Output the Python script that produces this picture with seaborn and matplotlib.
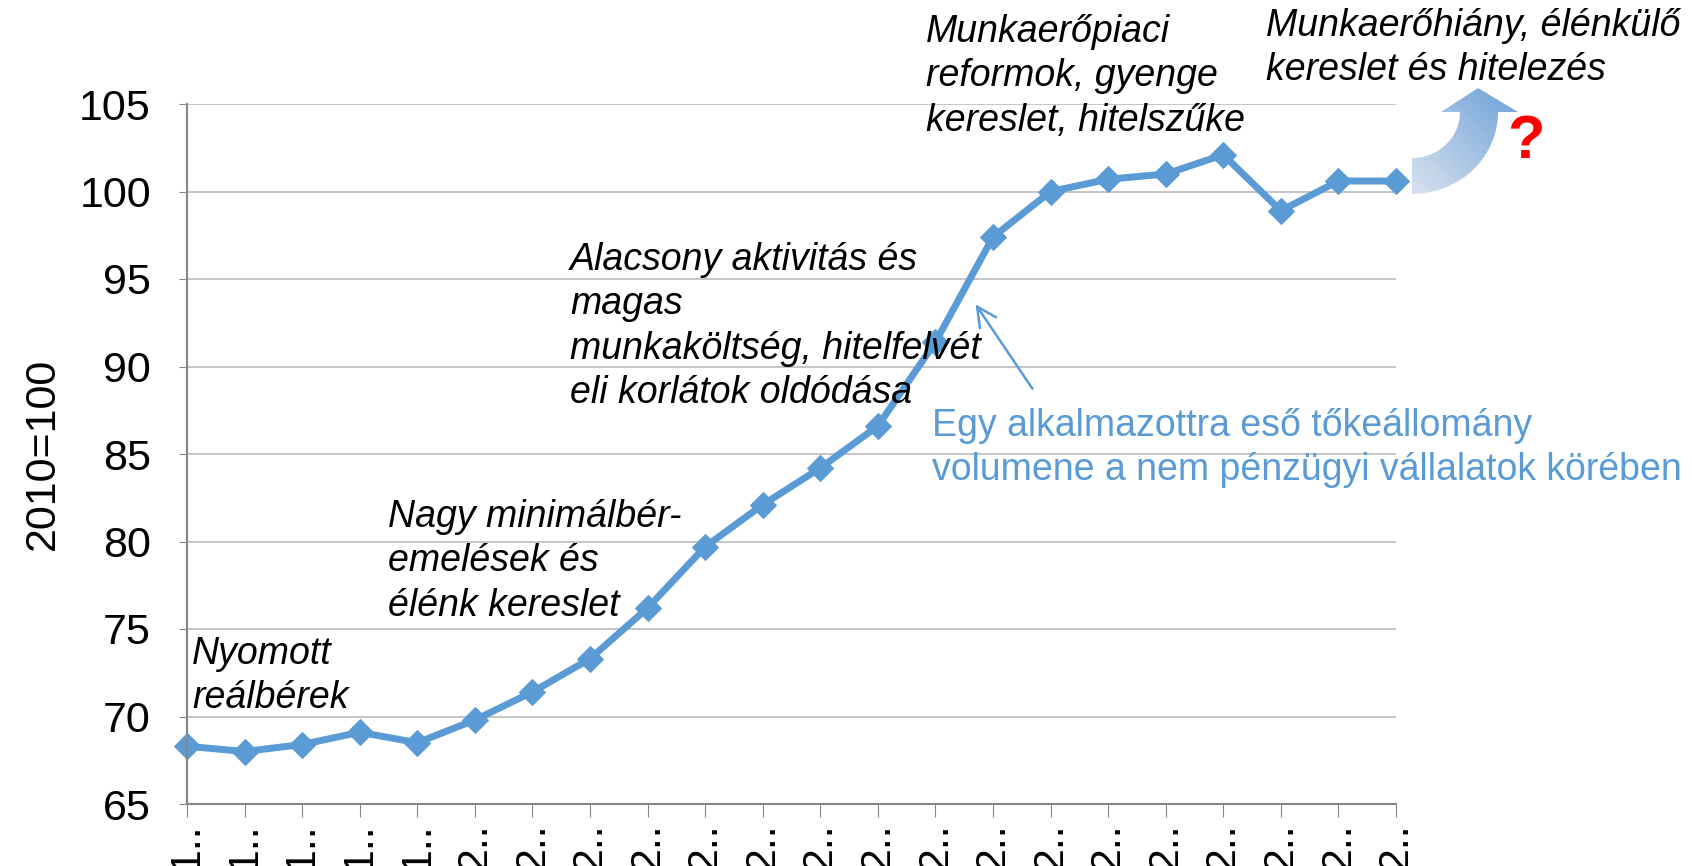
import numpy as np
import pandas as pd
import seaborn as sns
import matplotlib.pyplot as plt
from matplotlib.path import Path
from matplotlib.patches import PathPatch

sns.set_style('white')
plt.rcParams['font.family'] = ['Liberation Sans', 'DejaVu Sans']
plt.rcParams['text.color'] = 'black'
plt.rcParams['xtick.color'] = 'black'
plt.rcParams['ytick.color'] = 'black'
plt.rcParams['axes.labelcolor'] = 'black'

# data (index 2010=100)
tick_labels = ['1..'] * 5 + ['2..'] * 17
values = [68.3, 68.0, 68.4, 69.1, 68.5, 69.8, 71.4, 73.3, 76.2, 79.7, 82.1,
          84.2, 86.6, 91.4, 97.4, 100.0, 100.7, 101.0, 102.1, 98.9, 100.6, 100.6]
y_ticks = [65, 70, 75, 80, 85, 90, 95, 100, 105]

blue = '#5B9BD5'
W, H = 1692, 866

df = pd.DataFrame({'pos': range(len(values)), 'value': values})

fig = plt.figure(figsize=(W / 100, H / 100), dpi=100)
ax = fig.add_axes([187 / W, 1 - 804 / H, (1396 - 187) / W, (804 - 104) / H])

sns.lineplot(data=df, x='pos', y='value', color=blue, linewidth=5,
             marker='D', markersize=13, markeredgecolor=blue, ax=ax, clip_on=False)

ax.set_xlim(0, len(values) - 1)
ax.set_ylim(65, 105)
ax.set_yticks(y_ticks)
ax.set_xticks(range(len(values)))
ax.set_xticklabels(tick_labels, rotation=90, fontsize=31, va='top')
ax.tick_params(axis='y', labelsize=31, length=6, color='#868686', direction='out', left=True, pad=20)
ax.tick_params(axis='x', length=9, color='#868686', direction='out', bottom=True, pad=4)
ax.yaxis.grid(True, color='#C0C0C0', linewidth=1.3)
ax.set_axisbelow(True)
for s in ['top', 'right']:
    ax.spines[s].set_visible(False)
for s in ['left', 'bottom']:
    ax.spines[s].set_color('#868686')
    ax.spines[s].set_linewidth(1.5)
ax.set_xlabel('')
ax.set_ylabel('2010=100', fontsize=31, labelpad=12)


def fx(x):
    return x / W


def fy(y):
    return 1 - y / H


notes = [
    (192, 636, 'Nyomott\nreálbérek'),
    (388, 499, 'Nagy minimálbér-\nemelések és\nélénk kereslet'),
    (570, 242, 'Alacsony aktivitás és\nmagas\nmunkaköltség, hitelfelvét\neli korlátok oldódása'),
    (926, 14, 'Munkaerőpiaci\nreformok, gyenge\nkereslet, hitelszűke'),
    (1266, 8, 'Munkaerőhiány, élénkülő\nkereslet és hitelezés'),
]
for x, y, txt in notes:
    fig.text(fx(x), fy(y), txt, fontsize=27, style='italic', va='top', ha='left',
             linespacing=1.3)

fig.text(fx(932), fy(408), 'Egy alkalmazottra eső tőkeállomány\nvolumene a nem pénzügyi vállalatok körében',
         fontsize=27, color=blue, va='top', ha='left', linespacing=1.3)

ax.annotate('', xy=(fx(974), fy(302)), xycoords='figure fraction',
            xytext=(fx(1034), fy(391)), textcoords='figure fraction',
            arrowprops=dict(arrowstyle='->,head_length=1.4,head_width=0.7',
                            color=blue, lw=1.8))

# curved gradient arrow on the right
over = fig.add_axes([0, 0, 1, 1], zorder=5)
over.set_xlim(0, W)
over.set_ylim(H, 0)
over.axis('off')
cx, cy = 1412, 112
t = np.linspace(np.pi / 2, 0, 30)
outer = np.column_stack([cx + 86 * np.cos(t), cy + 82 * np.sin(t)])
t2 = np.linspace(0, np.pi / 2, 30)
inner = np.column_stack([cx + 48 * np.cos(t2), cy + 46 * np.sin(t2)])
head = np.array([[1498, 112], [1518, 112], [1478, 88], [1441, 112], [1460, 112]])
pts = np.vstack([outer, head, inner, [[1412, 194]]])
patch = PathPatch(Path(pts), facecolor='none', edgecolor='none')
over.add_patch(patch)
gx, gy = np.meshgrid(np.linspace(0, 1, 100), np.linspace(0, 1, 100))
grad = (gx + (1 - gy)) / 2
img = over.imshow(grad, extent=(1405, 1520, 200, 85), origin='upper',
                  cmap=sns.light_palette('#6A9FD8', as_cmap=True), vmin=-0.15, vmax=1,
                  aspect='auto')
img.set_clip_path(patch)

fig.text(fx(1526), fy(142), '?', fontsize=44, color='#FF0000', fontweight='bold',
         ha='center', va='center')

plt.savefig('out.png', dpi=100)
